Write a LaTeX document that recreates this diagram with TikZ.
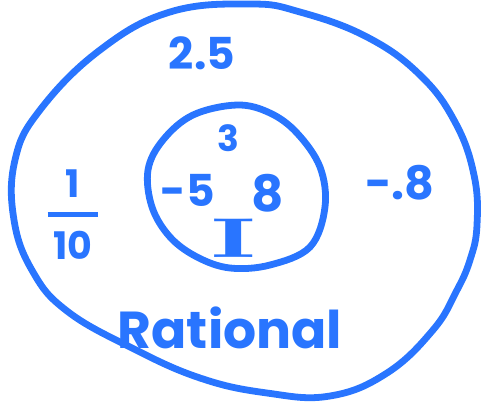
\documentclass[tikz,border=0pt]{standalone}
\usepackage{fontspec}
\usepackage{amsmath}
\setmainfont{Poppins}
\definecolor{penblue}{RGB}{41,117,255}

\begin{document}
\begin{tikzpicture}[x=0.5pt, y=-0.5pt,
    ink/.style={draw=penblue, line width=3.4pt, line cap=round, line join=round},
    num/.style={text=penblue, inner sep=0pt}]
            \useasboundingbox (0,0) rectangle (483,403);

            % Outer set
            \draw[ink] plot[smooth cycle, tension=0.7] coordinates {
                (250,4) (300,12) (367,37) (420,75) (455,122) (474,175) (477,225)
                (470,260) (456,292) (433,330) (387,373) (330,396) (267,393)
                (200,378) (130,347) (67,311) (33,272) (14,220) (15,160)
                (40,110) (100,50) (170,12)};

            % Inner set
            \draw[ink] plot[smooth cycle, tension=0.6] coordinates {
                (237,105) (270,113) (297,133) (320,167) (325,207) (310,247)
                (270,265) (230,268) (197,257) (170,237) (152,207) (148,170)
                (163,140) (193,115)};

            % Inner numbers
            \node[num, font=\bfseries\fontsize{18}{20}\selectfont] (three) at (228,138) {3};
            \node[num, font=\bfseries\fontsize{22}{24}\selectfont] (minusfive) at (188,190) {-5};
            \node[num, font=\bfseries\fontsize{25}{27}\selectfont] (eight) at (268,193) {8};
            \node[num, font=\fontfamily{lmr}\bfseries\fontsize{28}{30}\selectfont] (integers) at (234,238) {\scalebox{2.0}[1]{I}};

            % Outer numbers
            \node[num, font=\bfseries\fontsize{22}{24}\selectfont] (twofive) at (202,53) {2.5};
            \node[num, font=\bfseries\fontsize{19}{21}\selectfont] (tenth) at (73,215)
                {$\genfrac{}{}{2.4pt}{0}{\text{1}}{\,\text{10}\,}$};
            \node[num, font=\bfseries\fontsize{23}{25}\selectfont] (minuspointeight) at (400,183) {-.8};

            % Label
            \node[num, font=\bfseries\fontsize{26}{28}\selectfont] (rational) at (230,328) {Rational};
        \end{tikzpicture}
\end{document}
